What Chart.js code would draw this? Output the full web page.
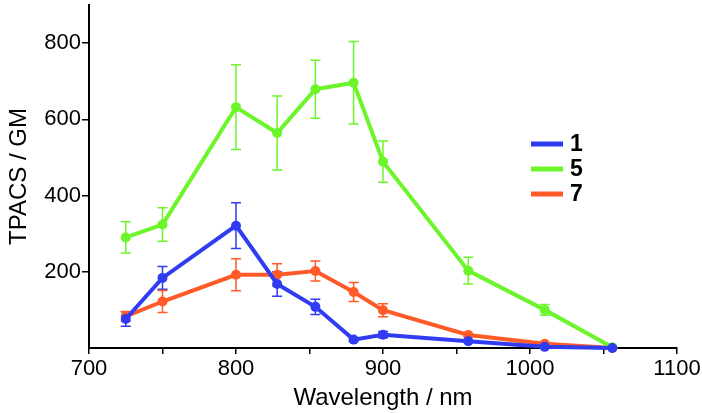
<!DOCTYPE html>
<html>
<head>
<meta charset="utf-8">
<script src="https://cdn.jsdelivr.net/npm/chart.js@4/dist/chart.umd.min.js"></script>
<style>
  html, body { margin: 0; padding: 0; background: #ffffff; }
  #wrap { position: relative; width: 702px; height: 413px; }
</style>
</head>
<body>
<div id="wrap"><canvas id="c" width="702" height="413"></canvas></div>
<script>
// Wavelengths (nm)
const wavelengths = [725, 750, 800, 828, 854, 880, 900, 958, 1010, 1056];
// TPACS / GM values
const series1 = [76, 184, 321, 168, 108, 22, 35, 18, 3, 0];
const err1    = [19, 30, 60, 32, 20, 5, 8, 0, 0, 0];
const series5 = [290, 324, 632, 564, 679, 696, 489, 203, 100, 2];
const err5    = [41, 44, 111, 97, 76, 108, 54, 35, 14, 0];
const series7 = [83, 122, 192, 192, 202, 147, 99, 34, 11, 0];
const err7    = [13, 29, 42, 29, 26, 25, 17, 4, 0, 0];
const seriesNames = ['1', '5', '7'];
const seriesColors = ['#2f3cf2', '#6cf52a', '#ff5a28'];
const yTicks = [200, 400, 600, 800];

function toPoints(vals) { return wavelengths.map((w, i) => ({ x: w, y: vals[i] })); }
const allVals = [series1, series5, series7];
const allErr = [err1, err5, err7];

const errorBarPlugin = {
  id: 'errorBars',
  beforeDatasetsDraw(chart) {
    const ctx = chart.ctx;
    const xs = chart.scales.x, ys = chart.scales.y;
    ctx.save();
    ctx.lineWidth = 1.5;
    allVals.forEach((vals, di) => {
      ctx.strokeStyle = seriesColors[di];
      vals.forEach((v, i) => {
        const e = allErr[di][i];
        if (!e) return;
        const px = xs.getPixelForValue(wavelengths[i]);
        const pt = ys.getPixelForValue(v + e);
        const pb = ys.getPixelForValue(Math.max(0, v - e));
        ctx.beginPath();
        ctx.moveTo(px, pt); ctx.lineTo(px, pb);
        ctx.moveTo(px - 5, pt); ctx.lineTo(px + 5, pt);
        ctx.moveTo(px - 5, pb); ctx.lineTo(px + 5, pb);
        ctx.stroke();
      });
    });
    ctx.restore();
  }
};

const legendPlugin = {
  id: 'customLegend',
  afterDraw(chart) {
    const ctx = chart.ctx;
    ctx.save();
    const ys = [144, 169, 194];
    seriesNames.forEach((n, i) => {
      ctx.strokeStyle = seriesColors[i];
      ctx.lineWidth = 5;
      ctx.beginPath();
      ctx.moveTo(531, ys[i]); ctx.lineTo(563, ys[i]);
      ctx.stroke();
      ctx.fillStyle = '#000';
      ctx.font = 'bold 23px "Liberation Sans", Arial, sans-serif';
      ctx.textBaseline = 'middle';
      ctx.textAlign = 'left';
      ctx.fillText(n, 570, ys[i] + 1);
    });
    ctx.restore();
  }
};

const tickFont = { family: '"Liberation Sans", Arial, sans-serif', size: 22 };
const titleFont = { family: '"Liberation Sans", Arial, sans-serif', size: 24 };

new Chart(document.getElementById('c'), {
  type: 'line',
  data: {
    datasets: allVals.map((vals, i) => ({
      label: seriesNames[i],
      data: toPoints(vals),
      borderColor: seriesColors[i],
      backgroundColor: seriesColors[i],
      borderWidth: 4,
      pointRadius: 5,
      pointHoverRadius: 5,
      pointBorderWidth: 0,
      tension: 0,
      clip: false
    }))
  },
  options: {
    responsive: false,
    animation: false,
    devicePixelRatio: 1,
    layout: { padding: { left: 5, right: 25, top: -1, bottom: 0 } },
    plugins: { legend: { display: false }, tooltip: { enabled: false } },
    scales: {
      x: {
        type: 'linear', min: 700, max: 1100,
        ticks: {
          stepSize: 50, autoSkip: false, color: '#000', font: tickFont, padding: 2,
          maxRotation: 0,
          callback: v => (v % 100 === 0 ? String(v) : '')
        },
        grid: { drawOnChartArea: false, drawTicks: true, tickLength: 6, color: '#000', lineWidth: 1.5 },
        border: { display: true, color: '#000', width: 2 },
        title: { display: true, text: 'Wavelength / nm', color: '#000', font: titleFont, padding: { top: 0, bottom: 0 } },
        afterFit: s => { s.height = 65; s.paddingLeft = 0; s.paddingRight = 0; }
      },
      y: {
        type: 'linear', min: 0, max: 900,
        afterBuildTicks: s => { s.ticks = yTicks.map(v => ({ value: v })); },
        ticks: { color: '#000', font: tickFont, padding: 1 },
        grid: { drawOnChartArea: false, drawTicks: true, tickLength: 7, color: '#000', lineWidth: 1.5 },
        border: { display: true, color: '#000', width: 2 },
        title: { display: true, text: 'TPACS / GM', color: '#000', font: titleFont, padding: { top: 0, bottom: 0 } },
        afterFit: s => { s.width = 84; s.paddingTop = 0; s.paddingBottom = 0; }
      }
    }
  },
  plugins: [errorBarPlugin, legendPlugin]
});
</script>
</body>
</html>
